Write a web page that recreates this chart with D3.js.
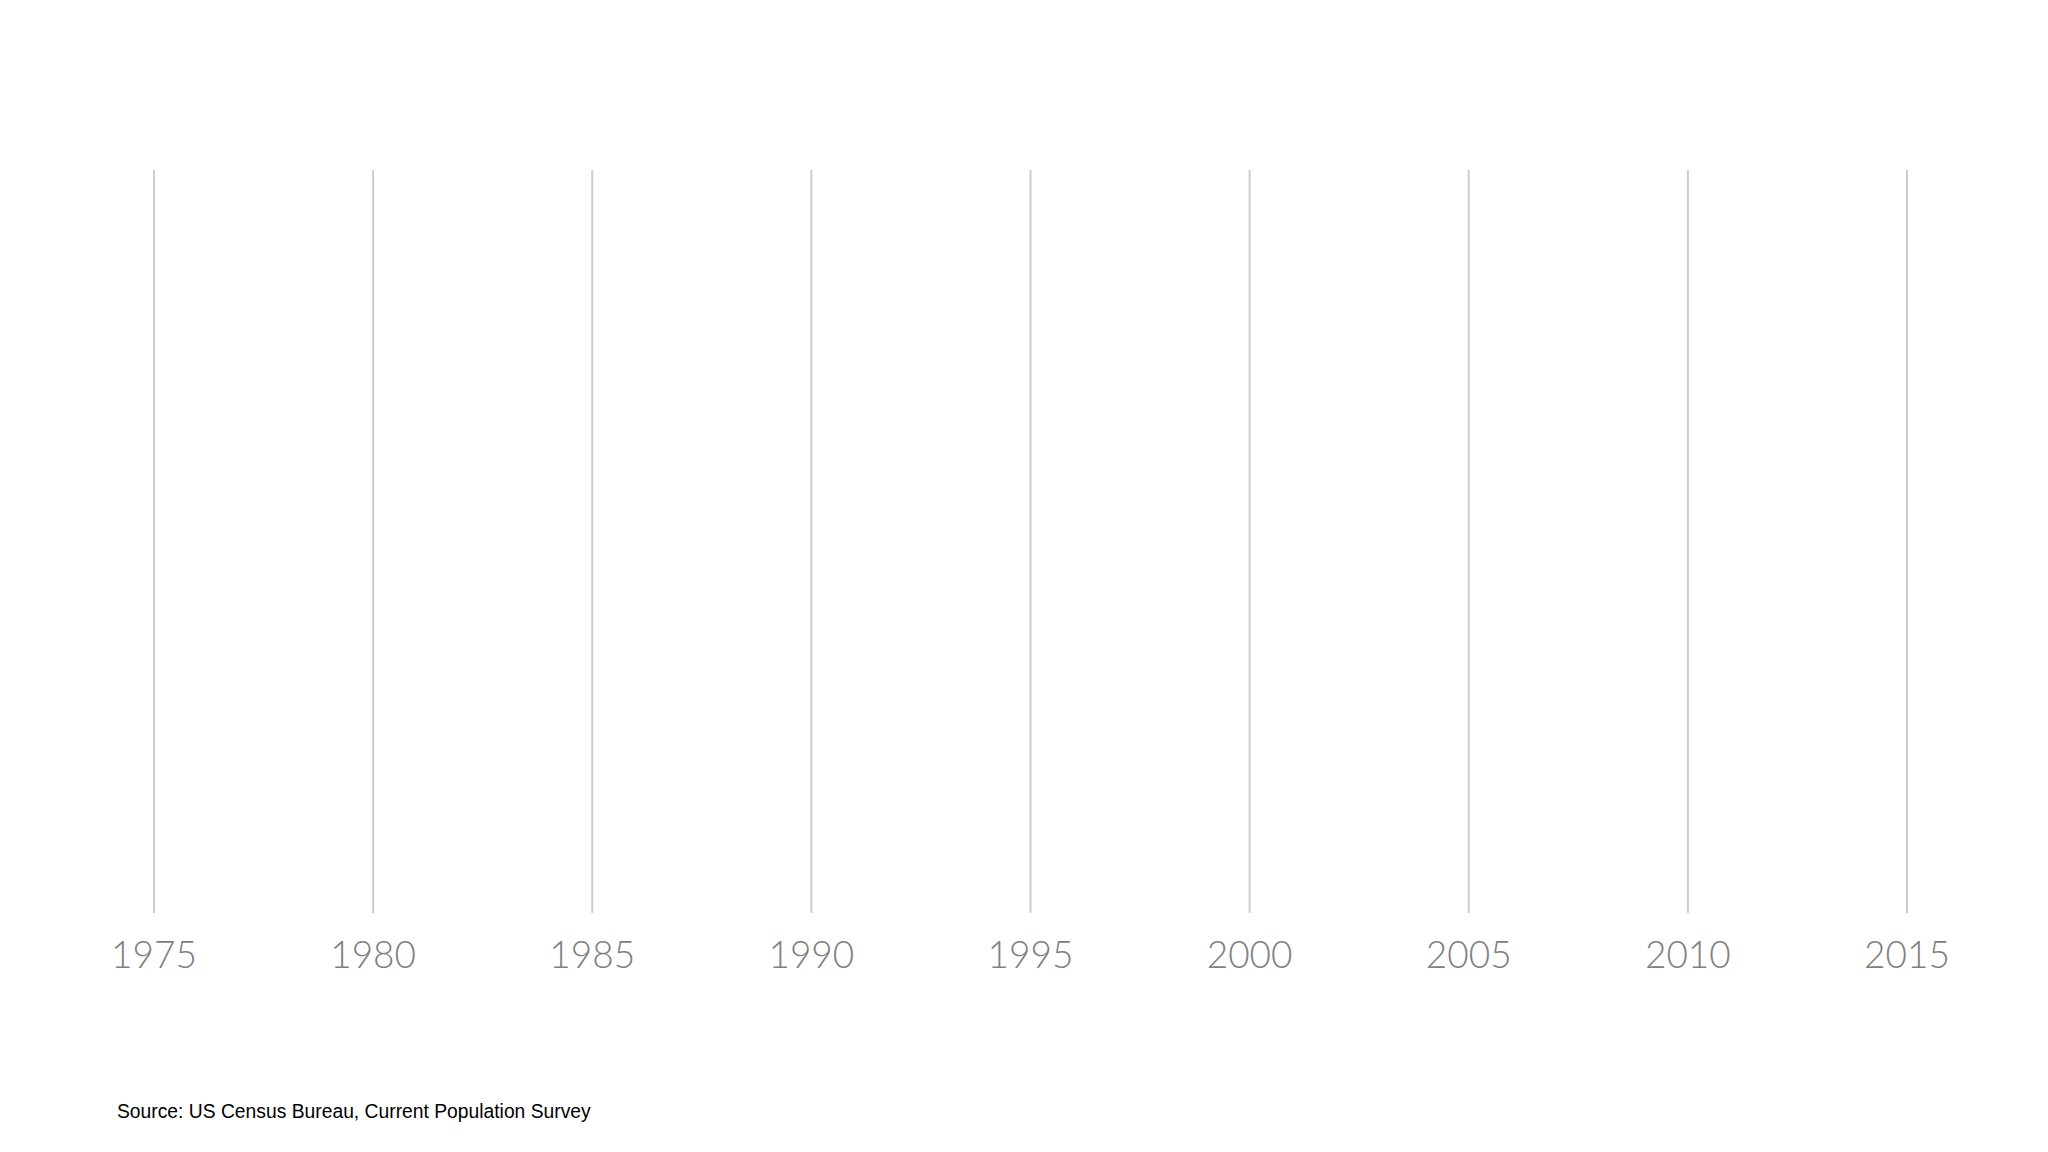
<!DOCTYPE html>
<html><head><meta charset="utf-8">
<script src="https://cdn.jsdelivr.net/npm/d3@7"></script>
<style>body{margin:0;background:#fff}</style></head>
<body><svg id="c" width="2048" height="1152"></svg>
<script>
const years = [1975,1980,1985,1990,1995,2000,2005,2010,2015];
const source = "Source: US Census Bureau, Current Population Survey";
const svg = d3.select("#c");
const x = d3.scaleLinear().domain([1975,2015]).range([154,1907]);
const y0 = 170, y1 = 913;
svg.selectAll("line.g").data(years).join("line")
  .attr("x1",d=>x(d)).attr("x2",d=>x(d)).attr("y1",y0).attr("y2",y1)
  .attr("stroke","#cccccc").attr("stroke-width",2);
svg.selectAll("text.t").data(years).join("text")
  .attr("x",d=>x(d)).attr("y",968).attr("text-anchor","middle")
  .attr("font-family","Lato, 'Open Sans', sans-serif").attr("font-weight",300)
  .attr("font-size",37).attr("fill","#808080").text(d=>d);
svg.append("text").attr("x",117).attr("y",1118)
  .attr("font-family","'Liberation Sans', Arial, sans-serif").attr("font-size",19.3)
  .attr("fill","#000").text(source);
</script></body></html>
